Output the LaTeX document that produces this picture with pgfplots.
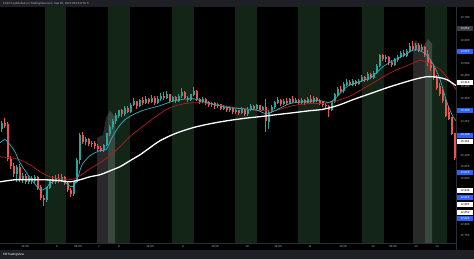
\documentclass[border=0pt]{standalone}
\usepackage{pgfplots}
\pgfplotsset{compat=1.18}
\usepackage{pgfplotstable}
\usepackage{fontspec}
\setmainfont{Liberation Sans}
\definecolor{barc}{HTML}{1E2026}
\definecolor{bandc}{HTML}{132517}
\definecolor{upc}{HTML}{26A69A}
\definecolor{dnc}{HTML}{EF5350}
\definecolor{emar}{HTML}{B71C1C}
\definecolor{emac}{HTML}{26B7C6}
\definecolor{txtc}{HTML}{B2B5BE}
\definecolor{sepc}{HTML}{2A2E39}
\definecolor{boxb}{HTML}{2962FF}
\definecolor{boxg}{HTML}{3A3D45}

% rising candles: x open high low close
\pgfplotstableread{
x o h l c
1.5 13215 13250 13205 13240
16.5 13020 13060 12985 13050
22.5 12995 13025 12980 13010
28.5 12985 13015 12975 13000
34.5 12990 13015 12980 13005
46.5 12905 12965 12900 12960
49.5 12960 13000 12955 12995
55.5 12985 13015 12978 13000
61.5 12990 13018 12985 13005
73.5 12935 12990 12925 12985
76.5 12985 13090 12980 13080
79.5 13080 13200 13065 13190
85.5 13160 13180 13145 13170
91.5 13150 13165 13138 13155
103.5 13125 13150 13118 13145
106.5 13145 13200 13140 13195
109.5 13195 13235 13185 13225
112.5 13225 13260 13215 13250
115.5 13250 13285 13240 13275
118.5 13275 13300 13265 13295
124.5 13280 13315 13275 13305
130.5 13290 13330 13285 13320
133.5 13320 13350 13315 13335
139.5 13315 13345 13310 13340
145.5 13330 13360 13325 13345
151.5 13335 13365 13330 13350
157.5 13330 13362 13325 13345
160.5 13345 13375 13340 13360
166.5 13350 13380 13345 13365
172.5 13340 13362 13335 13352
178.5 13338 13368 13332 13360
181.5 13360 13395 13352 13375
190.5 13342 13370 13338 13365
193.5 13365 13398 13360 13380
202.5 13335 13355 13328 13345
211.5 13320 13335 13312 13328
217.5 13315 13330 13308 13322
223.5 13305 13320 13298 13312
229.5 13298 13315 13290 13305
235.5 13290 13305 13282 13295
241.5 13285 13310 13280 13300
247.5 13280 13310 13275 13300
250.5 13300 13325 13295 13315
256.5 13305 13325 13300 13318
262.5 13300 13318 13295 13310
268.5 13245 13300 13215 13290
271.5 13290 13320 13285 13310
274.5 13310 13340 13305 13330
277.5 13330 13355 13325 13340
283.5 13325 13345 13320 13338
289.5 13330 13352 13325 13345
295.5 13335 13350 13330 13342
301.5 13330 13350 13325 13340
307.5 13328 13355 13325 13345
313.5 13335 13358 13330 13350
331.5 13300 13340 13295 13335
334.5 13335 13372 13330 13365
337.5 13365 13400 13358 13390
343.5 13380 13420 13375 13410
346.5 13410 13432 13405 13420
352.5 13410 13432 13405 13425
358.5 13412 13435 13408 13425
361.5 13425 13452 13420 13440
367.5 13430 13465 13425 13455
373.5 13440 13470 13435 13460
376.5 13460 13500 13455 13490
379.5 13490 13545 13485 13535
385.5 13520 13540 13510 13530
394.5 13495 13525 13490 13515
397.5 13515 13540 13508 13530
400.5 13530 13555 13525 13545
406.5 13535 13565 13530 13555
409.5 13555 13592 13550 13575
415.5 13565 13590 13558 13580
421.5 13560 13585 13550 13570
}\upcandles

% falling candles: x open high low close
\pgfplotstableread{
x o h l c
4.5 13240 13262 13220 13230
7.5 13235 13245 13075 13085
10.5 13085 13100 13040 13055
13.5 13055 13070 13005 13020
19.5 13050 13065 12985 12995
25.5 13010 13020 12975 12985
31.5 13000 13010 12975 12990
37.5 13005 13010 12950 12960
40.5 12960 12970 12905 12915
43.5 12915 12930 12880 12905
52.5 12995 13010 12975 12985
58.5 13000 13020 12982 12990
64.5 13005 13010 12970 12980
67.5 12980 12985 12940 12950
70.5 12950 12960 12920 12935
82.5 13190 13205 13150 13160
88.5 13170 13178 13140 13150
94.5 13155 13162 13130 13140
97.5 13140 13150 13120 13130
100.5 13130 13140 13115 13125
121.5 13295 13305 13270 13280
127.5 13305 13318 13285 13290
136.5 13335 13340 13305 13315
142.5 13340 13355 13320 13330
148.5 13345 13352 13325 13335
154.5 13350 13358 13322 13330
163.5 13360 13378 13342 13350
169.5 13365 13370 13332 13340
175.5 13352 13360 13330 13338
184.5 13375 13382 13345 13350
187.5 13350 13360 13335 13342
196.5 13380 13385 13338 13345
199.5 13345 13352 13325 13335
205.5 13345 13350 13322 13330
208.5 13330 13338 13312 13320
214.5 13328 13332 13305 13315
220.5 13322 13326 13298 13305
226.5 13312 13318 13290 13298
232.5 13305 13310 13282 13290
238.5 13295 13300 13278 13285
244.5 13300 13305 13272 13280
253.5 13315 13320 13298 13305
259.5 13318 13322 13295 13300
265.5 13310 13345 13205 13250
280.5 13340 13348 13318 13325
286.5 13338 13350 13322 13330
292.5 13345 13360 13328 13335
298.5 13342 13348 13322 13330
304.5 13340 13345 13320 13328
310.5 13345 13365 13330 13335
316.5 13350 13356 13332 13338
319.5 13338 13345 13322 13330
322.5 13330 13340 13312 13320
325.5 13320 13330 13305 13315
328.5 13315 13322 13270 13300
340.5 13390 13405 13372 13380
349.5 13420 13428 13402 13410
355.5 13425 13430 13405 13412
364.5 13440 13448 13420 13430
370.5 13455 13462 13432 13440
382.5 13535 13545 13512 13520
388.5 13530 13535 13495 13505
391.5 13505 13515 13485 13495
403.5 13545 13560 13528 13535
412.5 13575 13598 13555 13565
418.5 13580 13590 13552 13560
424.5 13570 13578 13530 13540
427.5 13540 13560 13490 13505
430.5 13505 13520 13470 13480
433.5 13480 13495 13430 13440
436.5 13440 13450 13385 13395
439.5 13400 13415 13360 13370
442.5 13375 13390 13330 13340
445.5 13340 13345 13268 13275
448.5 13290 13312 13255 13260
451.5 13265 13270 13188 13195
454.5 13195 13200 13080 13090
}\dncandles

\begin{document}
\begin{tikzpicture}
\path[use as bounding box] (0pt,0pt) rectangle (474pt,259pt);
\fill[black] (0pt,0pt) rectangle (474pt,259pt);
\fill[barc] (0pt,252pt) rectangle (474pt,259pt);
\fill[barc] (0pt,0pt) rectangle (474pt,9pt);
\begin{axis}[
  at={(0pt,16pt)}, anchor=south west,
  width=456pt, height=236pt, scale only axis,
  xmin=0, xmax=456, ymin=12719.4, ymax=13747.9,
  clip mode=individual,
  axis x line*=bottom, axis y line*=right,
  axis line style={-, draw=sepc, line width=0.6pt},
  major tick length=0pt,
  xtick={25,57,78,99,119,150,183,215,247,278,310,343,373,393,416,437},
  xticklabels={12:00,6,06:00,7,8,12:00,9,12:00,10,12:00,11,12:00,12,06:00,13,14},
  ytick={12750,12800,13000,13050,13100,13250,13350,13400,13450,13500,13600,13700},
  scaled y ticks=false,
  /pgf/number format/fixed,
  /pgf/number format/precision=0,
  /pgf/number format/1000 sep={,},
  /pgf/number format/assume math mode=true,
  ticklabel style={font=\fontsize{2.9}{3}\selectfont, text=txtc, inner sep=0pt},
  xticklabel style={anchor=center, yshift=-3.3pt},
  yticklabel style={anchor=center, xshift=9pt},
]
% background session bands
\addplot[fill=bandc, draw=none] coordinates {(45,12700) (45,13760) (66,13760) (66,12700)};
\addplot[fill=bandc, draw=none] coordinates {(108,12700) (108,13760) (130,13760) (130,12700)};
\addplot[fill=bandc, draw=none] coordinates {(172,12700) (172,13760) (194,13760) (194,12700)};
\addplot[fill=bandc, draw=none] coordinates {(235,12700) (235,13760) (257,13760) (257,12700)};
\addplot[fill=bandc, draw=none] coordinates {(298,12700) (298,13760) (320,13760) (320,12700)};
\addplot[fill=bandc, draw=none] coordinates {(362,12700) (362,13760) (384,13760) (384,12700)};
\addplot[fill=bandc, draw=none] coordinates {(425,12700) (425,13760) (447,13760) (447,12700)};
% gray highlights
\addplot[fill=white, fill opacity=0.16, draw=none] coordinates {(97,12700) (97,13178) (103,13191) (106,13265) (110,13296) (115,13269) (115,12700)};
\addplot[fill=white, fill opacity=0.16, draw=none] coordinates {(413,12700) (413,13587) (416,13604) (420,13574) (424,13578) (428,13608) (432,13587) (432,12700)};
% wicks
\addplot[upc, line width=0.6pt, -, quiver={u=0, v=\thisrow{h}-\thisrow{l}}]
  table[x=x, y=l] {\upcandles};
\addplot[dnc, line width=0.6pt, -, quiver={u=0, v=\thisrow{h}-\thisrow{l}}]
  table[x=x, y=l] {\dncandles};
% bodies
\addplot[upc, line width=2pt, line cap=butt, -, quiver={u=0, v=\thisrow{c}-\thisrow{o}+2}]
  table[x=x, y=o] {\upcandles};
\addplot[dnc, line width=2pt, line cap=butt, -, quiver={u=0, v=\thisrow{o}-\thisrow{c}+2}]
  table[x=x, y=c] {\dncandles};
% moving averages
\addplot[emar, line width=0.7pt, smooth, mark=none] coordinates {
(0,13095) (10,13091) (20,13082) (30,13060) (40,13030) (50,13008) (60,13000) (67,12995) (75,13000) (80,13013) (90,13043) (100,13069) (110,13100) (120,13139) (130,13183) (145,13235) (160,13283) (170,13309) (185,13327) (200,13331) (215,13322) (230,13313) (250,13300) (265,13296) (275,13296) (293,13318) (310,13327) (320,13327) (330,13331) (343,13348) (353,13366) (363,13392) (375,13422) (387,13453) (397,13475) (407,13492) (420,13515) (430,13500) (440,13475) (450,13425) (456,13388)};
\addplot[emac, line width=0.7pt, smooth, mark=none] coordinates {
(0,13156) (5,13170) (10,13148) (15,13117) (20,13069) (30,13004) (40,12952) (45,12956) (50,12978) (55,12991) (62,12991) (68,12973) (73,12965) (78,13008) (82,13060) (90,13100) (100,13122) (106,13126) (112,13178) (118,13222) (125,13257) (135,13283) (145,13300) (160,13318) (175,13340) (193,13348) (210,13327) (230,13309) (255,13300) (266,13283) (275,13296) (290,13327) (305,13335) (320,13340) (328,13331) (335,13348) (347,13401) (360,13422) (372,13444) (383,13488) (395,13518) (405,13540) (415,13562) (425,13545) (433,13500) (440,13432) (447,13331) (453,13270) (456,13253)};
\addplot[white, line width=1.3pt, smooth, mark=none] coordinates {
(0,12986) (15,12995) (30,12995) (45,12995) (60,12991) (70,12986) (80,12995) (90,13008) (100,13017) (110,13034) (120,13052) (130,13078) (140,13104) (150,13135) (160,13165) (175,13196) (193,13222) (210,13239) (227,13252) (245,13263) (260,13270) (277,13279) (293,13287) (310,13296) (320,13300) (330,13309) (340,13322) (353,13344) (370,13370) (387,13396) (400,13414) (415,13433) (427,13444) (437,13442) (447,13431) (456,13405)};
% price scale labels
\tikzset{pl/.style={font=\fontsize{2.9}{3}\selectfont, inner sep=0pt, minimum width=16pt, minimum height=5pt}}
\node[pl, fill=boxg, text=white] at (axis cs:465,13652) {13,652};
\node[pl, fill=boxb, text=white] at (axis cs:465,13552) {13,552};
\node[pl, fill=white, text=black] at (axis cs:465,13418) {13,418};
\node[pl, fill=boxb, text=white] at (axis cs:465,13295) {13,295};
\node[pl, fill=boxb, text=white] at (axis cs:465,13190) {13,190};
\node[pl, fill=white, text=black] at (axis cs:465,13162) {13,162};
\node[pl, fill=boxb, text=white] at (axis cs:465,13026) {13,026};
\node[pl, fill=white, text=black] at (axis cs:465,12948) {12,948};
\node[pl, fill=boxb, text=white] at (axis cs:465,12916) {12,916};
\node[pl, fill=white, text=black] at (axis cs:465,12885) {12,885};
\node[pl, fill=white, text=black] at (axis cs:465,12852) {12,852};
\node[pl, fill=boxb, text=white] at (axis cs:465,12826) {12,826};
\end{axis}
\draw[sepc, line width=0.6pt] (456pt,9pt) -- (456pt,252pt);
\node[anchor=west, inner sep=0pt, text=txtc, font=\fontsize{2.9}{3}\selectfont] at (3pt,255.5pt) {FinkCh published on TradingView.com, Sep 05, 2022 00:16 UTC-5};
\node[anchor=west, inner sep=0pt, text=white, font=\fontsize{3}{3.2}\selectfont] at (3pt,4.5pt) {\textbf{TV}\,TradingView};
\end{tikzpicture}
\end{document}
